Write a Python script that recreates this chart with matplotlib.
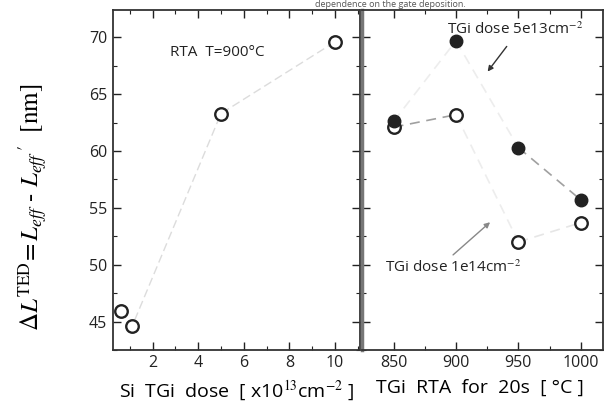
import matplotlib
matplotlib.use("Agg")
import matplotlib.pyplot as plt
from matplotlib.ticker import MultipleLocator

plt.rcParams['font.family'] = ['Open Sans', 'DejaVu Sans']
plt.rcParams['mathtext.fontset'] = 'stix'

# left panel: dose dependence, RTA at 900 C
dose = [0.6, 1.1, 5.0, 10.0]
dl_dose = [45.9, 44.6, 63.3, 69.6]

# right panel: RTA temperature dependence
temp = [850, 900, 950, 1000]
dl_5e13 = [62.6, 69.7, 60.3, 55.7]
dl_1e14 = [62.1, 63.2, 52.0, 53.7]

fig = plt.figure(figsize=(6.1, 4.05), dpi=100)
ax1 = fig.add_axes([0.185, 0.136, 0.405, 0.839])
ax2 = fig.add_axes([0.594, 0.136, 0.395, 0.839])

#faint dashed connecting lines, as in the scanned original
ax1.plot(dose, dl_dose, ls=(0, (6, 3)), color='#dcdcdc', lw=1.0, zorder=1)
ax1.plot(dose, dl_dose, 'o', mfc='white', mec='#222222', mew=1.7, ms=9, zorder=3)

seg_5e13 = ['#ededed', '#ededed', '#a0a0a0']
seg_1e14 = ['#a0a0a0', '#ededed', '#e6e6e6']
for i in range(len(temp) - 1):
    ax2.plot(temp[i:i + 2], dl_5e13[i:i + 2], ls=(0, (6, 4)), color=seg_5e13[i], lw=1.2, zorder=1)
    ax2.plot(temp[i:i + 2], dl_1e14[i:i + 2], ls=(0, (6, 4)), color=seg_1e14[i], lw=1.2, zorder=1)
ax2.plot(temp, dl_1e14, 'o', mfc='white', mec='#222222', mew=1.7, ms=9, zorder=3)
ax2.plot(temp, dl_5e13, 'o', mfc='#222222', mec='#222222', ms=9, zorder=4)

for ax in (ax1, ax2):
    ax.set_ylim(42.5, 72.4)
    ax.yaxis.set_major_locator(MultipleLocator(5))
    ax.yaxis.set_minor_locator(MultipleLocator(2.5))
    ax.tick_params(which='both', direction='in', top=True, right=True, colors='#222222')
    ax.tick_params(which='major', length=6, width=1.0, labelsize=11.5, pad=4)
    ax.tick_params(which='minor', length=3, width=0.8)
    for sp in ax.spines.values():
        sp.set_color('#333333')
        sp.set_linewidth(1.3)

ax1.set_xlim(0.25, 11.1)
ax1.xaxis.set_minor_locator(MultipleLocator(1))
ax1.set_xticks([2, 4, 6, 8, 10])

ax2.set_xlim(825, 1018)
ax2.set_xticks(temp)
ax2.xaxis.set_minor_locator(MultipleLocator(25))
ax2.tick_params(axis='y', labelleft=False)
ax2.spines['left'].set_linewidth(2.5)
ax2.spines['left'].set_color('#777777')

ax1.set_ylabel(r"$\mathit{\Delta L}^{\mathrm{TED}}\!= L_{eff}$ - $L_{eff}\,'$  [nm]",
               fontsize=18, family='STIXGeneral')
ax1.yaxis.set_label_coords(-0.26, 0.42)
ax1.set_xlabel(r"Si  TGi  dose  [ x10$^{13}$cm$^{-2}$ ]", fontsize=14)
ax2.set_xlabel(r"TGi  RTA  for  20s  [ °C ]", fontsize=14)
ax1.xaxis.set_label_coords(0.5, -0.085)
ax2.xaxis.set_label_coords(0.49, -0.085)

ax1.text(2.75, 68.7, "RTA  T=900°C", fontsize=11, color='#222222', va='center')

ax2.text(893, 70.7, r"TGi dose 5e13cm$^{-2}$", fontsize=11, color='#222222', va='center')
ax2.annotate("", xy=(924, 66.8), xytext=(942, 69.4),
             arrowprops=dict(arrowstyle='-|>', color='#333333', lw=1.0, mutation_scale=8))
ax2.text(843, 49.7, r"TGi dose 1e14cm$^{-2}$", fontsize=11, color='#222222', va='center')
ax2.annotate("", xy=(929, 53.9), xytext=(896, 50.7),
             arrowprops=dict(arrowstyle='-|>', color='#888888', lw=1.0, mutation_scale=8))

# heading of the original page, mostly cropped away there
fig.text(0.64, 0.999, "dependence on the gate deposition.", fontsize=6.5, ha='center',
         va='top', color='#555555')

fig.savefig("out.png", dpi=100)
